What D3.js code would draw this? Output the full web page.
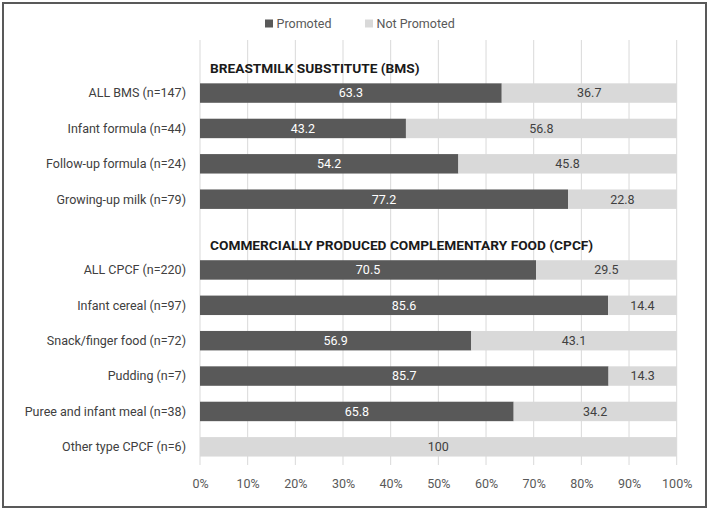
<!DOCTYPE html>
<html>
<head>
<meta charset="utf-8">
<script src="https://cdn.jsdelivr.net/npm/d3@7"></script>
<style>
  html, body { margin: 0; padding: 0; background: #fff; }
  svg { display: block; font-family: Roboto, "Noto Sans", sans-serif; }
</style>
</head>
<body>
<svg id="chart" width="709" height="510"></svg>
<script>
// ---- data ----
const categories = [
  "",
  "ALL BMS (n=147)",
  "Infant formula (n=44)",
  "Follow-up formula (n=24)",
  "Growing-up milk (n=79)",
  " ",
  "ALL CPCF (n=220)",
  "Infant cereal (n=97)",
  "Snack/finger food (n=72)",
  "Pudding (n=7)",
  "Puree and infant meal (n=38)",
  "Other type CPCF (n=6)"
];
const headings = [
  { row: 0, text: "BREASTMILK SUBSTITUTE (BMS)" },
  { row: 5, text: "COMMERCIALLY PRODUCED COMPLEMENTARY FOOD (CPCF)" }
];
const promoted =    [null, 63.3, 43.2, 54.2, 77.2, null, 70.5, 85.6, 56.9, 85.7, 65.8, 0];
const notPromoted = [null, 36.7, 56.8, 45.8, 22.8, null, 29.5, 14.4, 43.1, 14.3, 34.2, 100];
const seriesNames = ["Promoted", "Not Promoted"];
const xTicks = [0, 10, 20, 30, 40, 50, 60, 70, 80, 90, 100];

// ---- layout ----
const svg = d3.select("#chart");
const colors = ["#595959", "#d9d9d9"];
const labelColors = ["#ffffff", "#404040"];

const x = d3.scaleLinear().domain([0, 100]).range([200, 676.7]);
const y = d3.scaleBand().domain(d3.range(categories.length)).range([40, 464.5]).paddingInner(0.45).paddingOuter(0.225);

// frame
svg.append("rect").attr("x", 3).attr("y", 3).attr("width", 703).attr("height", 504)
  .attr("fill", "none").attr("stroke", "#595959").attr("stroke-width", 2);

// gridlines
svg.append("g").selectAll("line").data(xTicks).join("line")
  .attr("x1", d => x(d)).attr("x2", d => x(d))
  .attr("y1", 40).attr("y2", 465)
  .attr("stroke", "#d9d9d9").attr("stroke-width", 1);

// bars
const rows = categories.map((c, i) => ({ i, c, p: promoted[i], n: notPromoted[i] }))
  .filter(d => d.p !== null);

const gBars = svg.append("g");
rows.forEach(d => {
  const segs = [
    { s: 0, x0: 0, x1: d.p, v: d.p },
    { s: 1, x0: d.p, x1: d.p + d.n, v: d.n }
  ];
  segs.forEach(sg => {
    if (sg.v <= 0) return;
    gBars.append("rect")
      .attr("x", x(sg.x0)).attr("y", y(d.i))
      .attr("width", x(sg.x1) - x(sg.x0)).attr("height", y.bandwidth())
      .attr("fill", colors[sg.s]);
    gBars.append("text")
      .attr("x", (x(sg.x0) + x(sg.x1)) / 2)
      .attr("y", y(d.i) + y.bandwidth() / 2)
      .attr("dy", "0.35em")
      .attr("text-anchor", "middle")
      .attr("font-size", 12.5)
      .attr("fill", labelColors[sg.s])
      .text(d3.format("")(sg.v));
  });
});

// category labels
svg.append("g").selectAll("text").data(rows).join("text")
  .attr("x", 186).attr("y", d => y(d.i) + y.bandwidth() / 2)
  .attr("dy", "0.35em").attr("text-anchor", "end")
  .attr("font-size", 12.5).attr("fill", "#404040")
  .text(d => d.c);

// headings
svg.append("g").selectAll("text").data(headings).join("text")
  .attr("x", 210).attr("y", d => y(d.row) + y.bandwidth() / 2 + 15.7)
  .attr("font-size", 13.7).attr("font-weight", "bold").attr("fill", "#1a1a1a")
  .text(d => d.text);

// x axis
const xAxis = d3.axisBottom(x).tickValues(xTicks).tickSize(0).tickPadding(0)
  .tickFormat(d => d + "%");
const ga = svg.append("g").attr("transform", "translate(0,484)").call(xAxis);
ga.select(".domain").remove();
ga.selectAll("text").attr("dy", "0.35em").attr("y", 0)
  .attr("font-family", "Roboto, 'Noto Sans', sans-serif")
  .attr("font-size", 12.5).attr("fill", "#595959");

// legend
const legend = svg.append("g");
const legendX = [265, 365];
seriesNames.forEach((name, i) => {
  legend.append("rect").attr("x", legendX[i]).attr("y", 19.5)
    .attr("width", 8).attr("height", 8).attr("fill", colors[i]);
  legend.append("text").attr("x", legendX[i] + 11.5).attr("y", 23.5)
    .attr("dy", "0.35em").attr("font-size", 12.5).attr("fill", "#595959")
    .text(name);
});
</script>
</body>
</html>
